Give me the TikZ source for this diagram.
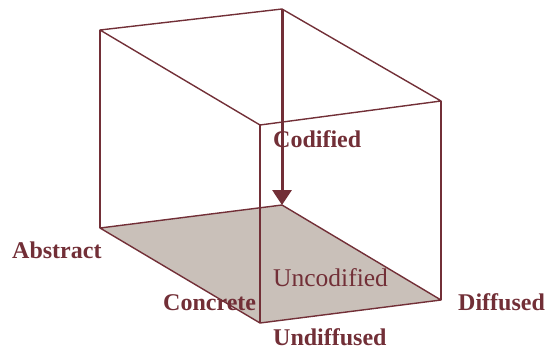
\documentclass[tikz,border=0pt]{standalone}
\usepackage{fontspec}
\setmainfont{Liberation Serif}
\usetikzlibrary{arrows.meta}
\definecolor{maroon}{HTML}{722F37}
\definecolor{floor}{HTML}{C9C0B9}
\tikzset{
  edge/.style={draw=maroon, line width=1.4pt, line join=round},
  lbl/.style={text=maroon, font=\fontsize{24}{26}\selectfont\bfseries, anchor=base west, inner sep=0pt},
  lblr/.style={text=maroon, font=\fontsize{25.5}{27}\selectfont, anchor=base west, inner sep=0pt}
}
\begin{document}
\begin{tikzpicture}[x=1pt,y=-1pt]
\useasboundingbox (0,0) rectangle (549,349);
% vertices
\coordinate (TL) at (100,30);
\coordinate (TB) at (282,9);
\coordinate (TR) at (441,101);
\coordinate (TF) at (260,125);
\coordinate (BL) at (100,228);
\coordinate (BB) at (282,205);
\coordinate (BR) at (441,300);
\coordinate (BF) at (260,323);
% floor
\fill[floor] (BL) -- (BB) -- (BR) -- (BF) -- cycle;
\draw[edge] (BL) -- (BB) -- (BR) -- (BF) -- cycle;
% top
\draw[edge] (TL) -- (TB) -- (TR) -- (TF) -- cycle;
% verticals
\draw[edge] (TL) -- (BL);
\draw[edge] (TR) -- (BR);
\draw[edge, line width=1.1pt] (TF) -- (BF);
% arrow
\draw[draw=maroon, fill=maroon, line width=3pt, -{Triangle[width=19pt,length=15pt]}] (TB) -- (BB);
% labels
\node[lbl] (cod) at (273,147) {Codified};
\node[lbl] (abs) at (12,258) {Abstract};
\node[lbl] (con) at (163,310) {Concrete};
\node[lblr] (unc) at (273,286) {Uncodified};
\node[lbl] (dif) at (458,310) {Diffused};
\node[lbl] (und) at (273,345) {Undiffused};
\end{tikzpicture}
\end{document}
